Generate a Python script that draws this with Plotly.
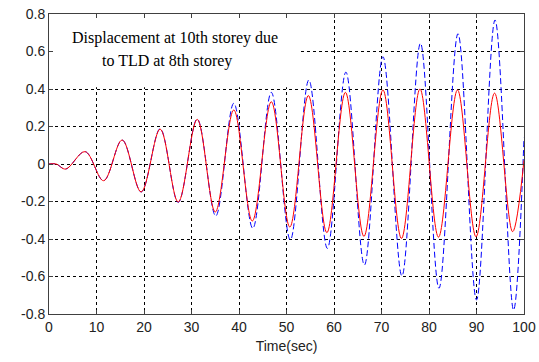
import plotly.graph_objects as go

# Extrema (time in s, displacement)
t_red = [0, 1.5, 3.5, 7.6, 11.5, 15.4, 19.4, 23.4, 27.2, 31.2, 35.0, 38.9, 42.8,
         46.8, 50.7, 54.6, 58.5, 62.4, 66.3, 70.3, 74.2, 78.1, 82.0, 86.0, 89.9,
         93.8, 97.6, 100]
y_red = [0, 0, -0.027, 0.066, -0.089, 0.128, -0.149, 0.186, -0.203, 0.238, -0.256,
         0.288, -0.304, 0.332, -0.336, 0.365, -0.366, 0.382, -0.386, 0.395, -0.397,
         0.400, -0.390, 0.395, -0.388, 0.378, -0.361, 0.02]

t_blue = [0, 1.5, 3.5, 7.6, 11.5, 15.4, 19.4, 23.4, 27.2, 31.2, 35.1, 38.9, 42.9,
          46.8, 50.8, 54.7, 58.6, 62.5, 66.4, 70.3, 74.3, 78.2, 82.1, 86.1, 90.0,
          93.9, 97.8, 100]
y_blue = [0, 0, -0.027, 0.066, -0.089, 0.128, -0.149, 0.188, -0.205, 0.24, -0.277,
          0.324, -0.343, 0.382, -0.405, 0.448, -0.45, 0.49, -0.539, 0.572, -0.597,
          0.644, -0.663, 0.695, -0.725, 0.768, -0.779, 0.14]

x_ticks = [0, 10, 20, 30, 40, 50, 60, 70, 80, 90, 100]
y_ticks = [-0.8, -0.6, -0.4, -0.2, 0, 0.2, 0.4, 0.6, 0.8]
y_tick_labels = ["-0.8", "-0.6", "-0.4", "-0.2", "0", "0.2", "0.4", "0.6", "0.8"]

note_line1 = "Displacement at 10th storey due"
note_line2 = "to TLD at 8th storey"
x_title = "Time(sec)"

tick_font = dict(family="Liberation Sans, Arial", size=14, color="#222222")

fig = go.Figure()
fig.add_trace(go.Scatter(x=t_blue, y=y_blue, mode="lines",
                         line=dict(color="rgb(0,0,255)", width=1, dash="6px,3px", shape="spline", smoothing=1),
                         showlegend=False))
fig.add_trace(go.Scatter(x=t_red, y=y_red, mode="lines",
                         line=dict(color="rgb(255,0,0)", width=1, shape="spline", smoothing=1),
                         showlegend=False))

# white text box covering the grid in the upper-left corner
fig.add_shape(type="rect", xref="x", yref="y", x0=0, x1=52.8, y0=0.41, y1=0.8,
              fillcolor="white", line=dict(width=0), layer="between")

fig.add_annotation(x=4.4, y=0.672, xref="x", yref="y", text=note_line1, showarrow=False,
                   xanchor="left", yanchor="middle",
                   font=dict(family="Liberation Serif, Times New Roman", size=16, color="black"))
fig.add_annotation(x=10.7, y=0.547, xref="x", yref="y", text=note_line2, showarrow=False,
                   xanchor="left", yanchor="middle",
                   font=dict(family="Liberation Serif, Times New Roman", size=16, color="black"))

axis_common = dict(showgrid=True, gridcolor="black", gridwidth=1, griddash="3px,3px",
                   zeroline=False, showline=True, linecolor="#404040", linewidth=1,
                   mirror="ticks", ticks="inside", ticklen=4, tickcolor="#404040",
                   tickfont=tick_font, automargin=False, ticklabeloverflow="allow")

fig.update_xaxes(range=[0, 100], tickvals=x_ticks, **axis_common,
                 title=dict(text=x_title, font=tick_font, standoff=7))
fig.update_yaxes(range=[-0.8, 0.8], tickvals=y_ticks, ticktext=y_tick_labels, **axis_common)

fig.update_layout(width=539, height=362, margin=dict(l=49, r=15, t=14, b=48),
                  paper_bgcolor="white", plot_bgcolor="white")

# remove the browser's default 8px body margin so the figure fills the window
fig.write_html("out.html", config={"displayModeBar": False},
               post_script="document.body.style.margin='0';")
